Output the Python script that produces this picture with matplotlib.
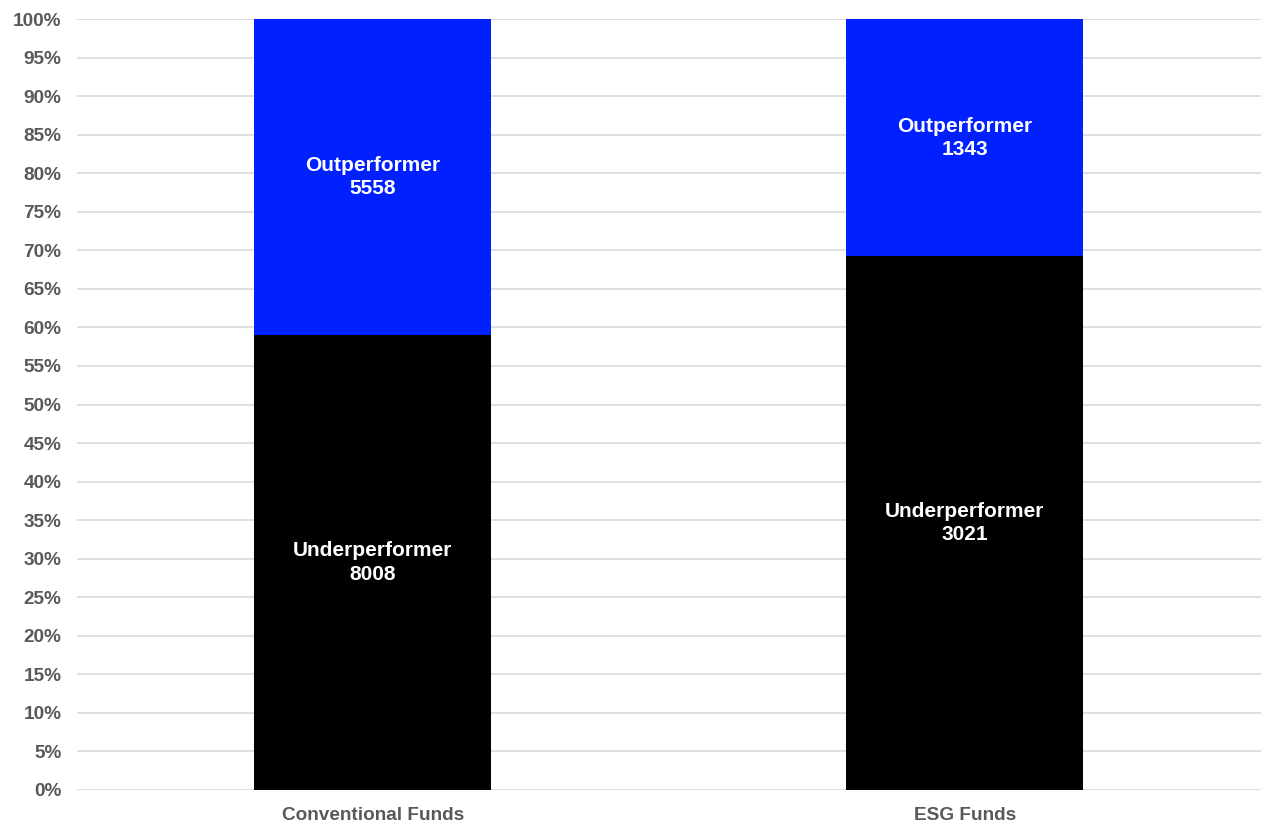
import numpy as np
import matplotlib.pyplot as plt
from matplotlib.ticker import PercentFormatter

plt.rcParams['font.family'] = ['Liberation Sans', 'DejaVu Sans']

categories = ["Conventional Funds", "ESG Funds"]
under = np.array([8008, 3021])
out = np.array([5558, 1343])

total = under + out
under_pct = under / total * 100
out_pct = out / total * 100

fig = plt.figure(figsize=(12.8, 8.35), dpi=100)
ax = fig.add_axes([0.060, 0.0539, 0.925, 0.9233])

x = np.arange(len(categories))
ax.bar(x, under_pct, width=0.4, color="black", zorder=3)
ax.bar(x, out_pct, width=0.4, bottom=under_pct, color="#0020FF", zorder=3)

# labels in the middle of each segment
for i in range(len(x)):
    ax.text(x[i], under_pct[i] / 2, f"Underperformer\n{under[i]}", ha="center", va="center",
            color="white", fontsize=15, fontweight="bold", linespacing=1.28, zorder=4)
    ax.text(x[i], under_pct[i] + out_pct[i] / 2, f"Outperformer\n{out[i]}", ha="center", va="center",
            color="white", fontsize=15, fontweight="bold", linespacing=1.28, zorder=4)

ax.set_xlim(-0.5, 1.5)
ax.set_ylim(0, 100)
ax.set_yticks(np.arange(0, 101, 5))
ax.yaxis.set_major_formatter(PercentFormatter(decimals=0))
ax.set_xticks(x)
ax.set_xticklabels(categories)
ax.grid(axis="y", color="#D9D9D9", linewidth=1.2, zorder=0)
for s in ax.spines.values():
    s.set_visible(False)
ax.tick_params(axis="both", length=0, labelsize=13.7, labelcolor="#595959")
ax.tick_params(axis="y", pad=11)
ax.tick_params(axis="x", pad=12)
for lab in ax.get_xticklabels() + ax.get_yticklabels():
    lab.set_fontweight("bold")

fig.savefig("out.png", dpi=100)
